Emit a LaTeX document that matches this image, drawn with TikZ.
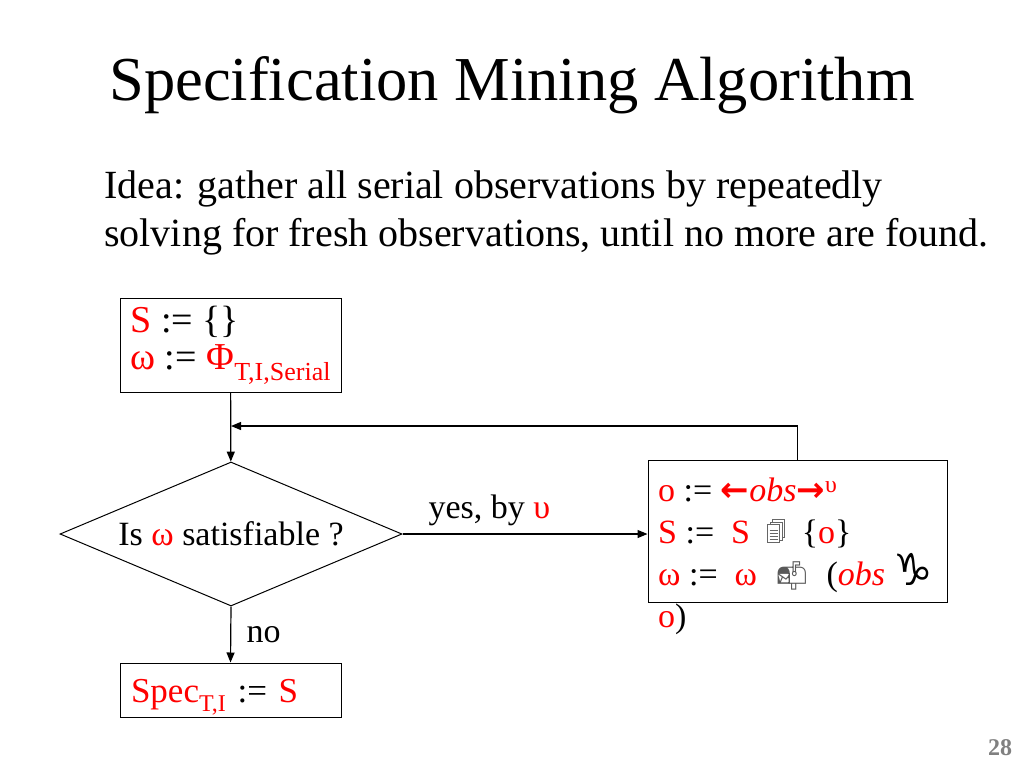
\documentclass[tikz,border=0pt]{standalone}
\usepackage{fontspec}
\setmainfont{Liberation Serif}
\newfontfamily\emojifont{Noto Emoji}
\newfontfamily\dejavufont{DejaVu Sans}
\usetikzlibrary{shapes.geometric,arrows.meta}
\setlength{\lineskiplimit}{-40pt}
\newcommand\rtxt[1]{\textcolor{red}{#1}}
\newcommand\lowsub[2]{\raisebox{-0.28em}{\fontsize{#1}{#1}\selectfont#2}}
\newcommand\thickarrow[1]{{\dejavufont\bfseries\textcolor{red}{#1}}}
\newcommand\mailicon{{\emojifont\fontsize{28}{28}\selectfont\textcolor{black!65}{📬}}}
\newcommand\pagesicon{\tikz[x=1pt,y=1pt,baseline=-1pt,line width=0.7pt]{
    \foreach \d in {5,2.5,0} \filldraw[draw=black!60,fill=white] (\d,\d) rectangle ++(12,18);
    \foreach \h in {3.5,6.5,...,15} \draw[black!60] (2,\h) -- (10,\h);}}
\begin{document}
\begin{tikzpicture}[x=1pt,y=-1pt,
    box/.style={draw,line width=1pt,inner sep=0pt},
    link/.style={line width=1.2pt,-{Triangle[length=10pt,width=8pt]}},
    small/.style={font=\fontsize{34}{42}\selectfont}]
  \useasboundingbox (0,0) rectangle (1024,768);
  \node[font=\fontsize{62.5}{70}\selectfont,anchor=base] (title) at (512,100) {Specification Mining Algorithm};
  \node[font=\fontsize{40}{48}\selectfont,anchor=base west,inner sep=0pt] (idea1) at (104,198) {Idea: gather all serial observations by repeatedly};
  \node[font=\fontsize{40}{48}\selectfont,anchor=base west,inner sep=0pt] (idea2) at (104,246) {solving for fresh observations, until no more are found.};
  \node[box,font=\fontsize{38}{37}\selectfont,align=left,minimum width=221pt,minimum height=94pt] (init) at (230.5,345)
    {\rtxt{S} := \{\}\\\rtxt{ω} := \rtxt{Φ\lowsub{26}{T,I,Serial}}};
  \node[draw,line width=1pt,small,shape=diamond,aspect=2.375,inner sep=0pt,
    minimum width=342pt,minimum height=144pt] (test) at (231,534) {Is \rtxt{ω} satisfiable ?};
  \node[box,minimum width=299pt,minimum height=142pt] (upd) at (797.5,531) {};
  \node[small,align=left,anchor=north west,inner sep=0pt] (updtext) at (658,478)
    {\rtxt{o} := \thickarrow{←}\rtxt{\textit{obs}}\thickarrow{→}\rtxt{\textsuperscript{υ}}\\
     \rtxt{S} :=\ \ \rtxt{S}\ \ \pagesicon\ \ \{\rtxt{o}\}\\
     \rtxt{ω} :=\ \ \rtxt{ω}\ \ \mailicon\ \ (\rtxt{\textit{obs}} {\dejavufont\fontsize{44}{42}\selectfont ♑}\\
     \rtxt{o})};
  \node[box,font=\fontsize{35}{40}\selectfont,text width=199pt,inner xsep=11pt,align=left,
    text height=28pt,text depth=4pt,minimum height=54pt] (spec) at (230.5,690)
    {\rtxt{Spec\lowsub{24}{T,I}} := \rtxt{S}};
  \coordinate (join) at (231,426);
  \draw[link] (init) -- (test);
  \draw[link] (upd.north) |- (join);
  \draw[link] (test.east) -- (test.east -| upd.west)
    node[small,pos=0.355,above=4pt] (yes) {yes, by \rtxt{υ}};
  \draw[link] (test.south) -- (spec.north)
    node[small,midway,right=12pt] (no) {no};
  \node[font=\bfseries\fontsize{24}{24}\selectfont,text=black!50] (page) at (1000,748) {28};
\end{tikzpicture}
\end{document}
